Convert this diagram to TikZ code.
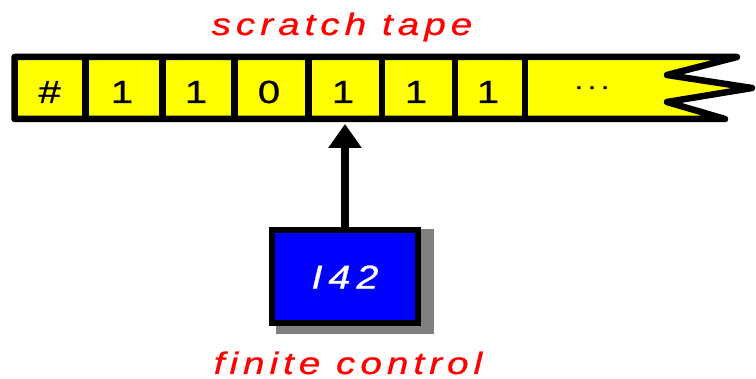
\documentclass[tikz,border=0pt]{standalone}
\usepackage{fontspec}
\setmainfont[FakeStretch=1.25,FakeBold=0.8]{Liberation Sans}
\newfontfamily\spaced[FakeStretch=1.25,FakeBold=0.8,LetterSpace=16]{Liberation Sans}
\newfontfamily\boxfont[FakeStretch=1.2,FakeBold=0.8,LetterSpace=18]{Liberation Sans}
\newfontfamily\dotsfont[FakeStretch=1.25,FakeBold=1.2,LetterSpace=20]{Liberation Sans}
\usetikzlibrary{arrows.meta,backgrounds,calc}
\definecolor{tapeyellow}{RGB}{255,255,0}
\definecolor{ctrlblue}{RGB}{0,0,255}
\definecolor{lblred}{RGB}{255,0,0}
\definecolor{shadowgray}{RGB}{128,128,128}
\tikzset{
  tapeline/.style={line width=6.5pt, line join=round, line cap=round, black},
  cell/.style={anchor=base, inner sep=0pt, font=\fontsize{32}{36}\selectfont},
  ctrlbox/.style={draw=black, fill=ctrlblue, line width=6pt, minimum width=146.5pt, minimum height=93pt, inner sep=0pt,
     text=white, font=\fontsize{33}{38}\selectfont\boxfont\itshape},
  lbl/.style={anchor=base, inner sep=0pt, text=lblred, font=\fontsize{31}{36}\selectfont\spaced\itshape},
  headarrow/.style={line width=7.5pt, black, -{Triangle[length=24pt,width=32pt]}}
}
\begin{document}
\begin{tikzpicture}[x=1pt,y=-1pt]
\useasboundingbox (0,0) rectangle (756,379);
% tape
\fill[tapeyellow] (14.5,57) -- (737,57) -- (667,75) -- (752,88) -- (667,102) -- (725,119) -- (14.5,119) -- cycle;
\draw[tapeline] (737,57) -- (14.5,57) -- (14.5,119) -- (725,119) -- (667,102) -- (752,88) -- (667,75) -- cycle;
\foreach \x in {85.5,162.5,234.5,308.5,382,455,525}{
  \draw[tapeline, line cap=butt] (\x,57) -- (\x,119);
}
\node[cell] (c0) at (49,103) {\itshape\#};
\node[cell] (c1) at (122,103) {1};
\node[cell] (c2) at (196,103) {1};
\node[cell] (c3) at (269,103) {0};
\node[cell] (c4) at (343,103) {1};
\node[cell] (c5) at (416,103) {1};
\node[cell] (c6) at (488,103) {1};
\node[cell, font=\fontsize{24}{28}\selectfont\dotsfont] (c7) at (592,89) {...};
% labels
\node[lbl] (tapelabel) at (342,35) {scratch tape};
\node[lbl] (ctrllabel) at (348,374) {finite control};
% finite control
\node[ctrlbox] (fc) at (345,277) {I42};
\begin{scope}[on background layer]
  \fill[shadowgray] ($(fc.north west)+(7,2)$) rectangle ($(fc.south east)+(13,8)$);
\end{scope}
\coordinate (head) at (345,124);
\draw[headarrow] (fc.north) -- (head);
\end{tikzpicture}
\end{document}
